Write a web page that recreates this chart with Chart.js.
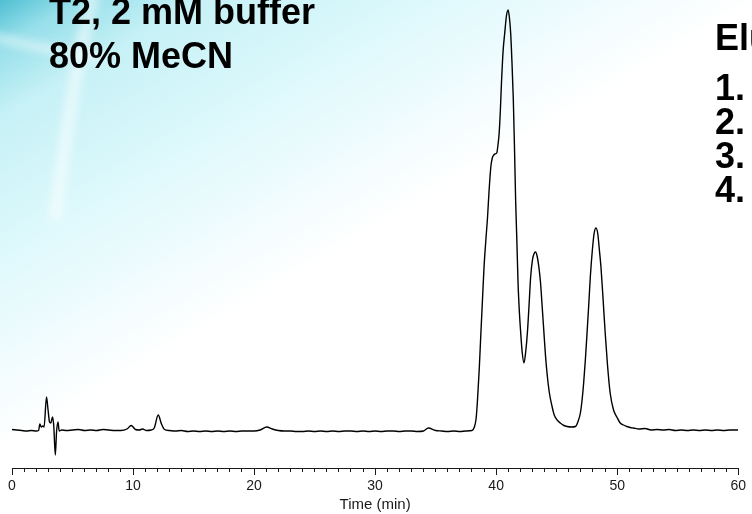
<!DOCTYPE html>
<html>
<head>
<meta charset="utf-8">
<script src="https://cdn.jsdelivr.net/npm/chart.js@4.4.0/dist/chart.umd.min.js"></script>
<style>
  html, body { margin: 0; padding: 0; background: #fff; }
  #wrap { position: relative; width: 752px; height: 514px; overflow: hidden; }
  #trace { position: absolute; left: 0; top: 0; }
  .note {
    position: absolute;
    font-family: 'Liberation Sans', Arial, sans-serif;
    font-weight: bold;
    font-size: 36px;
    color: #000;
    white-space: nowrap;
  }
  #cond { left: 49px; top: -10px; line-height: 44px; }
  #eluHead { left: 715px; top: 16px; line-height: 44px; }
  #eluList { left: 715px; top: 71px; line-height: 34px; }
</style>
</head>
<body>
<div id="wrap">
  <canvas id="trace" width="752" height="514"></canvas>
  <div class="note" id="cond"></div>
  <div class="note" id="eluHead">Elution order</div>
  <div class="note" id="eluList"></div>
</div>
<script>
// run conditions and elution list
const conditionLines = ['T2, 2 mM buffer', '80% MeCN']
const elutionItems = ['1.', '2.', '3.', '4.']

// chromatogram trace: retention time (min) and detector signal
const timeMin = [
  0.0, 0.4, 0.8, 1.2, 1.6, 2.0, 2.2, 2.3, 2.42, 2.55, 2.65, 2.85, 2.98, 3.1, 3.2,
  3.35, 3.45, 3.58, 3.68, 3.8, 3.9, 4.1, 4.5, 5.0, 5.5, 6.0, 6.5, 7.0, 7.5, 8.0,
  8.5, 9.0, 9.5, 9.85, 10.2, 10.5, 10.8, 11.1, 11.5, 11.75, 12.08, 12.35, 12.6, 13.0, 13.5,
  14.0, 14.5, 15.0, 15.5, 16.0, 16.5, 17.0, 17.5, 18.0, 18.5, 19.0, 19.5, 20.0, 20.5, 21.05,
  21.5, 22.0, 22.5, 23.0, 23.5, 24.0, 24.5, 25.0, 25.5, 26.0, 26.5, 27.0, 27.5, 28.0, 28.5,
  29.0, 29.5, 30.0, 30.5, 31.0, 31.5, 32.0, 32.5, 33.0, 33.5, 34.0, 34.4, 35.0, 35.5, 36.0,
  36.5, 37.0, 37.5, 38.0, 38.2, 38.35, 38.46, 38.6, 38.74, 38.87, 39.0, 39.15, 39.29, 39.42, 39.56,
  39.68, 39.75, 39.9, 40.05, 40.15, 40.25, 40.35, 40.44, 40.58, 40.71, 40.85, 40.99, 41.1, 41.2, 41.3,
  41.42, 41.52, 41.61, 41.71, 41.81, 41.92, 42.03, 42.15, 42.3, 42.44, 42.58, 42.72, 42.85, 43.0, 43.12,
  43.26, 43.4, 43.53, 43.67, 43.8, 43.95, 44.08, 44.22, 44.4, 44.63, 44.8, 45.04, 45.3, 45.6, 45.86,
  46.2, 46.55, 46.75, 46.96, 47.1, 47.23, 47.37, 47.51, 47.65, 47.78, 47.95, 48.1, 48.25, 48.4, 48.53,
  48.66, 48.84, 49.01, 49.2, 49.42, 49.7, 49.97, 50.25, 50.52, 50.8, 51.07, 51.34, 51.8, 52.3, 52.8,
  53.3, 53.8, 54.3, 54.8, 55.3, 55.8, 56.3, 56.8, 57.3, 57.8, 58.3, 58.8, 59.3, 60.0
]
const signal = [
  0.5, 0, -0.5, -1, -0.5, -1, -0.5, 6, 3, 4, 3, 33, 20, 8, 7,
  13, 4, -25, -2, 8, -1, 0, -0.5, 0, 0.5, -0.5, 0, -0.5, 0.5, 0,
  -0.5, -0.5, 1, 4.5, 0.5, 0, 1, -0.5, 0, 2, 15, 6, 0.5, -0.5, -1,
  -0.5, -1.5, -1, -1.5, -1, -1.5, -1, -1.5, -1, -1.5, -1, -1, -1, 0, 3,
  1, -0.5, -1, -1, -1.5, -1.5, -1, -1.5, -1, -1.5, -1, -1.5, -1, -1, -1.5,
  -1, -1.5, -1, -1.5, -1, -1, -1.5, -1, -1, -1.5, -1, 2, -0.5, -1, -1.5,
  -1, -1.5, -1, -0.5, 3, 12, 30, 60, 97, 130, 163, 190, 213, 240, 263,
  272, 274, 276, 277, 285, 297, 320, 347, 380, 397, 414, 420, 412, 397, 370,
  330, 280, 230, 190, 147, 118, 97, 78, 67, 78, 97, 125, 153, 170, 176,
  178, 173, 163, 147, 124, 97, 74, 55, 37, 23, 15, 10, 7, 4.5, 3.5,
  3, 3.5, 8, 17, 30, 47, 70, 97, 125, 153, 180, 197, 202, 196, 180,
  163, 130, 97, 65, 37, 20, 13, 7, 5, 3.5, 2.5, 2, 1, 1.5, 0,
  0.5, 0, 0.5, -0.5, 0, -0.5, 0, -0.5, 0, -0.5, 0, -0.5, 0, 0
]

// x axis: minor tick every minute, labelled tick every 10
const majorTicks = [0, 10, 20, 30, 40, 50, 60]

document.getElementById('cond').innerHTML = conditionLines.join('<br>')
document.getElementById('eluList').innerHTML = elutionItems.join('<br>')

// pale slide backdrop with the teal swoosh in the top-left corner
const slideBackground = {
  id: 'slideBackground',
  beforeDraw(chart) {
    const ctx = chart.ctx
    const w = chart.width
    const h = chart.height
    ctx.save()
    ctx.fillStyle = '#ffffff'
    ctx.fillRect(0, 0, w, h)

    var wash = ctx.createLinearGradient(0, 0, 204, 345)
    wash.addColorStop(0, '#4fbfd2')
    wash.addColorStop(0.1, '#96dfea')
    wash.addColorStop(0.25, '#c6f1f6')
    wash.addColorStop(0.55, '#def9fc')
    wash.addColorStop(0.8, '#f2fcfe')
    wash.addColorStop(0.97, '#ffffff')
    ctx.fillStyle = wash
    ctx.fillRect(0, 0, w, h)

    ctx.filter = 'blur(5px)'
    ctx.strokeStyle = 'rgba(255, 255, 255, 0.55)'
    ctx.lineWidth = 12
    ctx.beginPath()
    ctx.moveTo(55, 220)
    ctx.quadraticCurveTo(75, 60, 95, -10)
    ctx.stroke()
    ctx.lineWidth = 8
    ctx.beginPath()
    ctx.moveTo(-10, 36)
    ctx.quadraticCurveTo(45, 50, 105, 58)
    ctx.stroke()
    ctx.restore()
  },
}

// longer marks at the labelled minutes
const majorTickMarks = {
  id: 'majorTickMarks',
  afterDraw(chart) {
    const x = chart.scales.x
    const ctx = chart.ctx
    ctx.save()
    ctx.strokeStyle = '#1a1a1a'
    ctx.lineWidth = 1
    majorTicks.forEach((t) => {
      var px = Math.round(x.getPixelForValue(t)) + 0.5
      ctx.beginPath()
      ctx.moveTo(px, x.top)
      ctx.lineTo(px, x.top + 7)
      ctx.stroke()
    })
    ctx.restore()
  },
}

var ctx = document.getElementById('trace').getContext('2d')

new Chart(ctx, {
  type: 'line',
  data: {
    labels: timeMin,
    datasets: [
      {
        label: 'signal',
        data: timeMin.map((t, i) => ({ x: t, y: signal[i] })),
        borderColor: '#000000',
        borderWidth: 1.4,
        pointRadius: 0,
        fill: false,
        cubicInterpolationMode: 'monotone',
      },
    ],
  },
  options: {
    responsive: false,
    animation: false,
    devicePixelRatio: 1,
    layout: {
      padding: { left: 12, right: 9, top: 0, bottom: 0 },
    },
    plugins: {
      legend: { display: false },
      tooltip: { enabled: false },
    },
    scales: {
      x: {
        type: 'linear',
        min: 0,
        max: 60,
        afterFit: (scale) => {
          scale.height = 46
        },
        border: { display: true, color: '#1a1a1a', width: 1 },
        grid: {
          drawOnChartArea: false,
          drawTicks: true,
          tickLength: 4,
          tickColor: '#1a1a1a',
          tickWidth: 1,
        },
        ticks: {
          stepSize: 1,
          autoSkip: false,
          maxRotation: 0,
          minRotation: 0,
          padding: 6,
          color: '#1a1a1a',
          font: { family: "'Liberation Sans', Arial, sans-serif", size: 14 },
          callback: (v) => (majorTicks.includes(v) ? String(v) : ''),
        },
        title: {
          display: true,
          text: 'Time (min)',
          color: '#1a1a1a',
          padding: { top: 0, bottom: 0 },
          font: { family: "'Liberation Sans', Arial, sans-serif", size: 15 },
        },
      },
      y: {
        display: false,
        min: -38,
        max: 430,
      },
    },
  },
  plugins: [slideBackground, majorTickMarks],
})
</script>
</body>
</html>
